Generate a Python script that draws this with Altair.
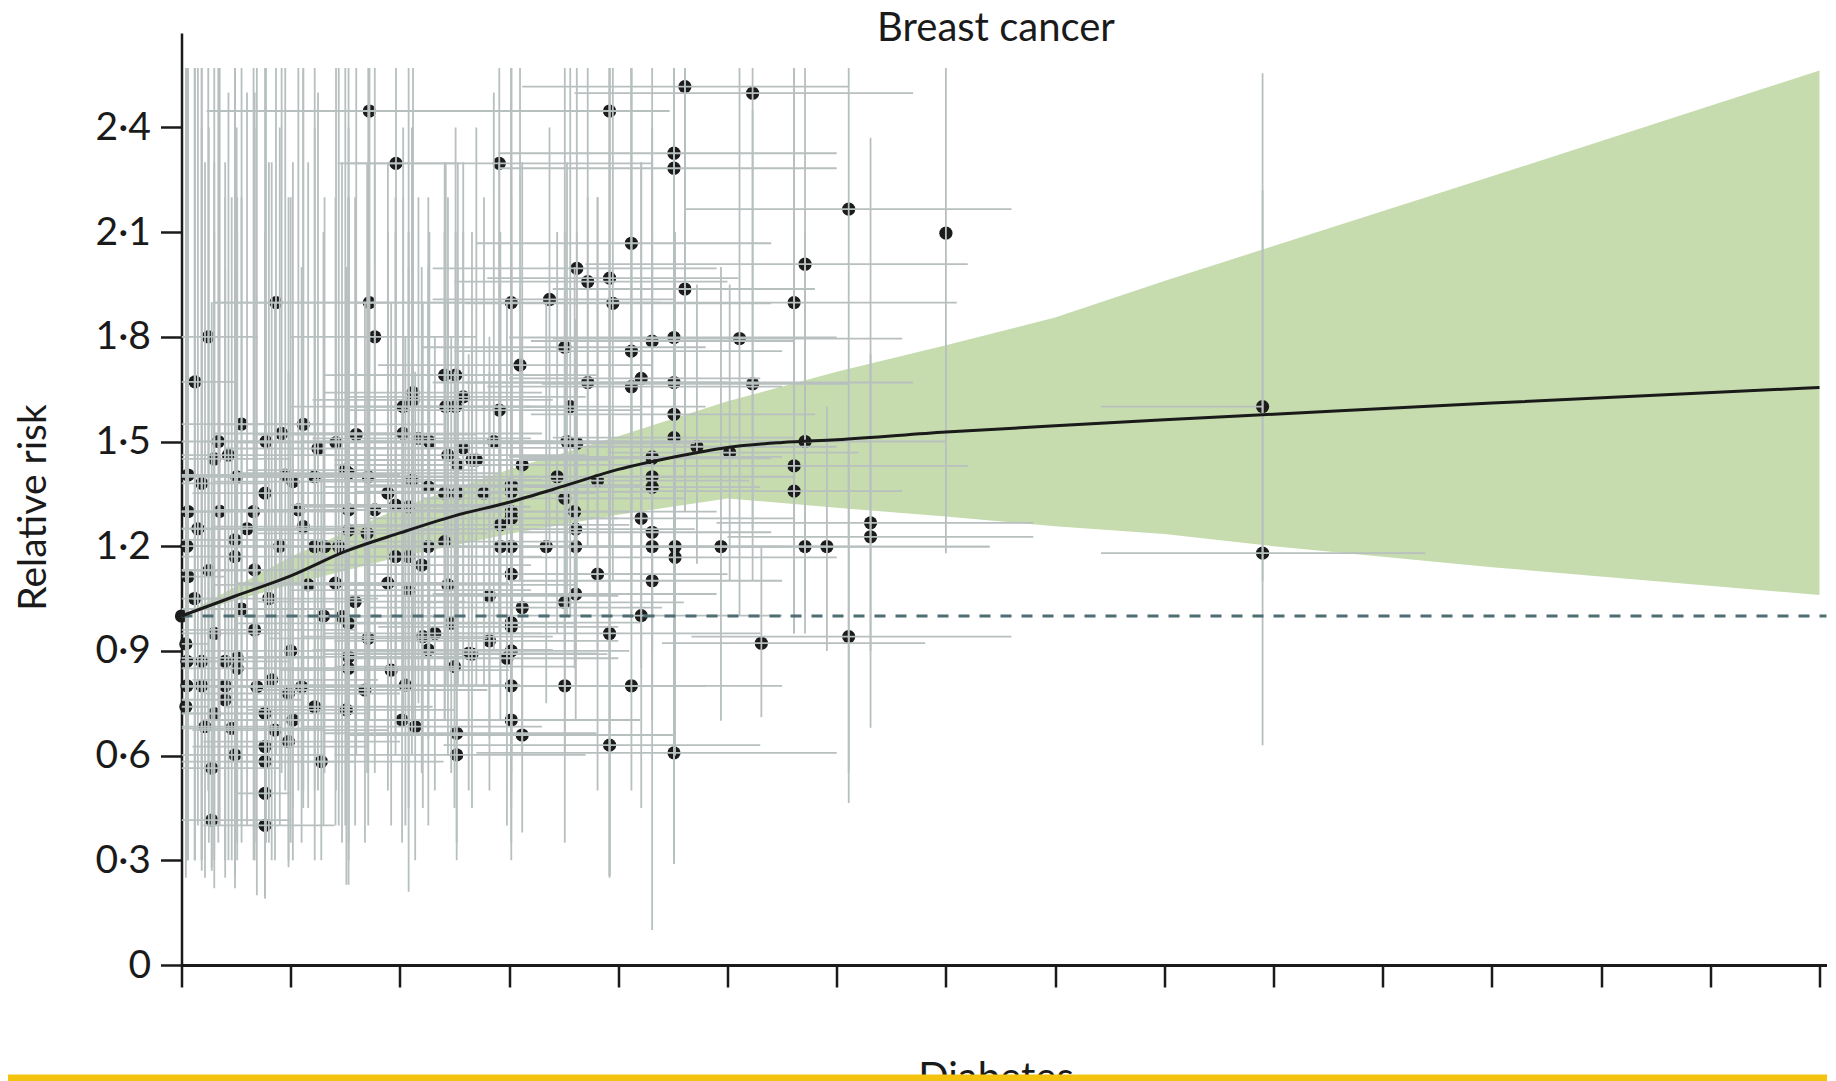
import altair as alt
import pandas as pd

# ---- study points: position, relative risk and their intervals ----
px = [9.9, 9.9, 7.0, 6.11, 5.71, 5.61, 5.23, 4.61, 4.51, 4.51,
      3.92, 5.11, 5.23, 4.51, 4.51, 4.31, 4.12, 3.62, 3.72, 3.92,
      3.95, 4.61, 3.02, 3.37, 3.51, 4.12, 3.10, 3.72, 4.21, 4.12,
      2.91, 3.56, 4.51, 2.86, 3.53, 3.62, 4.51, 4.72, 5.02, 4.31,
      2.70, 3.12, 3.44, 3.81, 4.31, 4.31, 4.31, 2.77, 3.02, 3.02,
      3.51, 3.02, 3.02, 2.92, 3.60, 3.61, 4.21, 4.31, 2.92, 3.02,
      3.34, 3.61, 4.31, 4.52, 4.52, 4.94, 5.71, 5.61, 5.61, 6.31,
      6.31, 5.71, 5.91, 6.11, 5.31, 3.02, 3.81, 4.31, 2.82, 3.61,
      3.51, 3.12, 3.02, 3.02, 4.21, 3.92, 2.82, 2.66, 3.02, 2.98,
      3.02, 3.51, 4.12, 3.02, 3.12, 3.92, 4.51, 1.72, 1.964, 2.91,
      0.865, 1.72, 0.245, 1.77, 0.124, 2.41, 2.51, 2.12, 2.12, 2.58,
      2.03, 2.42, 2.51, 1.115, 0.917, 0.774, 1.415, 2.03, 2.17, 2.27,
      2.44, 2.58, 0.337, 0.43, 0.06, 0.505, 0.95, 1.02, 1.22, 1.50,
      1.53, 1.71, 2.11, 2.26, 2.53, 2.66, 0.185, 1.89, 2.41, 2.53,
      0.765, 0.06, 0.66, 1.07, 1.53, 1.77, 1.96, 2.08, 1.115, 1.53,
      1.70, 0.49, 1.22, 1.31, 1.44, 2.26, 2.41, 1.96, 2.08, 2.2,
      0.49, 0.67, 1.16, 1.41, 1.89, 2.08, 2.44, 1.59, 1.47, 1.53,
      0.67, 1.71, 2.21, 2.32, 2.26, 2.47, 2.63, 1.53, 1.53, 1.92,
      2.50, 0.826, 0.69, 1.10, 0.98, 1.68, 2.05, 1.22, 1.51, 2.02,
      2.14, 1.02, 0.765, 0.215, 0.46, 0.856, 0.98, 2.52, 2.52, 0.49,
      0.765, 0.765, 1.28, 0.277, 0.765, 0.277, 0.765, 0.0, 0.05, 0.06,
      0.04, 0.05, 0.04, 0.05, 0.185, 0.185, 0.40, 0.40, 0.40, 0.51,
      0.51, 0.12, 0.25, 0.3, 0.55, 0.15, 0.35, 0.6, 0.3, 0.9,
      0.8, 1.3, 1.0, 0.3, 1.25, 0.55, 1.6]
prr = [1.60, 1.18, 2.097, 2.166, 2.008, 1.898, 2.498, 2.517, 2.326, 2.283,
       2.447, 1.795, 1.665, 1.669, 1.798, 1.788, 2.068, 1.996, 1.958, 1.968,
       1.896, 1.937, 1.898, 1.907, 1.77, 1.759, 1.719, 1.669, 1.681, 1.657,
       1.59, 1.60, 1.578, 1.50, 1.50, 1.495, 1.511, 1.485, 1.468, 1.456,
       1.447, 1.433, 1.399, 1.388, 1.452, 1.399, 1.369, 1.352, 1.375, 1.356,
       1.337, 1.299, 1.28, 1.261, 1.299, 1.249, 1.28, 1.24, 1.199, 1.199,
       1.199, 1.199, 1.199, 1.199, 1.168, 1.199, 1.50, 1.43, 1.358, 1.267,
       1.227, 1.199, 1.199, 0.941, 0.922, 1.12, 1.12, 1.101, 1.058, 1.063,
       1.039, 1.024, 0.981, 0.969, 1.001, 0.95, 0.929, 0.891, 0.90, 0.879,
       0.80, 0.80, 0.80, 0.702, 0.659, 0.63, 0.608, 2.447, 2.297, 2.297,
       1.898, 1.898, 1.80, 1.80, 1.671, 1.69, 1.69, 1.64, 1.619, 1.628,
       1.60, 1.60, 1.60, 1.549, 1.523, 1.50, 1.497, 1.523, 1.509, 1.50,
       1.461, 1.482, 1.50, 1.461, 1.404, 1.399, 1.404, 1.385, 1.399, 1.418,
       1.409, 1.399, 1.39, 1.37, 1.433, 1.447, 1.38, 1.352, 1.352, 1.352,
       1.352, 1.299, 1.299, 1.304, 1.304, 1.304, 1.318, 1.313, 1.256, 1.246,
       1.237, 1.218, 1.199, 1.199, 1.199, 1.199, 1.213, 1.17, 1.17, 1.146,
       1.17, 1.132, 1.089, 1.094, 1.094, 1.074, 1.089, 1.041, 0.998, 0.979,
       0.96, 0.936, 0.941, 0.95, 0.903, 0.979, 0.893, 0.883, 0.85, 0.845,
       0.855, 0.817, 0.797, 0.797, 0.778, 0.788, 0.802, 0.74, 0.731, 0.702,
       0.683, 0.702, 0.721, 0.683, 0.678, 0.673, 0.64, 0.664, 0.602, 0.602,
       0.626, 0.583, 0.583, 0.564, 0.492, 0.415, 0.40, 1.0, 1.2, 1.113,
       0.92, 0.80, 0.74, 0.87, 0.87, 0.80, 0.87, 0.80, 0.76, 0.88,
       0.85, 1.05, 1.13, 0.95, 1.02, 1.25, 1.30, 1.25, 0.72, 1.2,
       1.05, 1.0, 0.9, 1.45, 1.48, 1.55, 1.52]
pxlo = [8.42, 8.42, 7.0, 4.62, 3.7, 4.0, 3.6, 3.12, 2.9, 2.9,
        2.64, 3.4, 3.3, 2.6, 3.0, 3.2, 2.7, 2.3, 2.5, 2.8,
        2.6, 3.4, 1.6, 2.3, 2.2, 2.5, 1.8, 2.3, 3.0, 2.8,
        1.5, 2.2, 3.2, 1.6, 2.1, 2.5, 3.4, 3.6, 3.9, 3.0,
        1.4, 1.7, 2.0, 2.3, 3.1, 3.0, 3.2, 1.5, 1.7, 1.6,
        2.2, 1.8, 1.7, 1.5, 2.3, 2.2, 3.0, 3.1, 1.6, 1.5,
        2.0, 2.4, 3.0, 3.3, 3.1, 3.8, 4.3, 4.1, 4.2, 4.9,
        5.0, 4.4, 4.6, 4.67, 4.4, 1.7, 2.6, 3.0, 1.5, 2.3,
        2.1, 1.7, 1.6, 1.8, 2.8, 2.5, 1.4, 1.3, 1.6, 1.5,
        1.6, 2.2, 2.8, 1.7, 1.5, 2.4, 2.7, 0.23, 1.43, 1.5,
        0.3, 0.3, 0.0, 1.0, 0.0, 1.4, 1.3, 1.3, 1.2, 1.5,
        1.0, 1.4, 1.6, 0.3, 0.3, 0.2, 0.5, 1.0, 1.2, 1.1,
        1.3, 1.5, 0.0, 0.0, 0.0, 0.0, 0.2, 0.3, 0.4, 0.6,
        0.5, 0.8, 1.2, 1.3, 1.4, 1.7, 0.0, 0.9, 1.2, 1.5,
        0.1, 0.0, 0.0, 0.3, 0.6, 0.8, 1.0, 1.1, 0.3, 0.7,
        0.7, 0.0, 0.4, 0.3, 0.5, 1.2, 1.3, 1.0, 1.0, 1.2,
        0.0, 0.0, 0.3, 0.5, 0.9, 1.0, 1.4, 0.7, 0.6, 0.5,
        0.0, 0.8, 1.1, 1.3, 1.2, 1.4, 1.5, 0.6, 0.7, 0.9,
        1.4, 0.1, 0.0, 0.3, 0.2, 0.7, 1.0, 0.4, 0.6, 1.0,
        1.1, 0.2, 0.0, 0.0, 0.0, 0.1, 0.2, 1.3, 1.4, 0.0,
        0.1, 0.0, 0.4, 0.0, 0.5, 0.0, 0.2, 0.0, 0.0, 0.0,
        0.0, 0.0, 0.0, 0.0, 0.0, 0.0, 0.0, 0.0, 0.0, 0.0,
        0.0, 0.0, 0.0, 0.0, 0.0, 0.0, 0.0, 0.0, 0.0, 0.1,
        0.1, 0.4, 0.2, 0.0, 0.4, 0.0, 0.7]
pxhi = [9.9, 11.39, 7.0, 7.6, 7.2, 7.1, 6.7, 6.11, 6.0, 6.0,
        4.47, 6.6, 6.1, 6.7, 6.0, 5.6, 5.4, 4.9, 5.0, 5.1,
        5.4, 5.8, 4.4, 4.5, 4.8, 5.5, 4.3, 5.0, 5.3, 5.5,
        4.2, 4.8, 5.8, 4.1, 4.9, 4.7, 5.6, 6.0, 6.2, 5.5,
        3.9, 4.3, 4.6, 5.2, 5.4, 5.6, 5.3, 3.8, 4.2, 4.3,
        4.6, 4.1, 4.0, 4.1, 4.9, 4.7, 5.6, 5.4, 4.0, 4.2,
        4.5, 4.8, 5.5, 5.9, 6.0, 6.3, 7.0, 7.2, 6.6, 7.8,
        7.8, 7.4, 7.4, 7.6, 6.81, 4.2, 5.0, 5.5, 4.0, 4.9,
        4.6, 4.4, 4.2, 4.0, 5.5, 5.3, 4.0, 3.9, 4.1, 4.0,
        4.3, 4.8, 5.5, 4.2, 4.5, 5.3, 6.0, 3.21, 2.51, 4.3,
        1.9, 3.1, 0.7, 2.7, 0.5, 3.6, 3.8, 3.3, 3.4, 3.7,
        3.2, 3.5, 3.6, 2.4, 2.1, 1.9, 2.8, 3.3, 3.2, 3.4,
        3.7, 3.6, 1.0, 1.4, 0.3, 1.3, 2.0, 2.2, 2.5, 2.7,
        2.9, 2.8, 3.3, 3.5, 3.6, 3.9, 0.8, 3.0, 3.5, 3.7,
        1.8, 0.35, 1.6, 2.1, 2.6, 2.9, 3.0, 3.2, 2.2, 2.5,
        2.8, 1.3, 2.3, 2.5, 2.6, 3.4, 3.6, 3.1, 3.3, 3.2,
        1.2, 1.5, 2.2, 2.5, 3.0, 3.2, 3.6, 2.6, 2.5, 2.7,
        1.6, 2.8, 3.4, 3.3, 3.4, 3.6, 3.8, 2.6, 2.5, 3.0,
        3.6, 1.8, 1.5, 2.1, 2.0, 2.8, 3.1, 2.3, 2.5, 3.1,
        3.3, 2.0, 1.7, 0.9, 1.3, 1.9, 2.0, 3.8, 3.7, 1.3,
        1.7, 1.6, 2.4, 0.9, 1.0, 1.0, 1.4, 0.0, 0.3, 0.4,
        0.25, 0.3, 0.25, 0.3, 0.6, 0.7, 1.0, 1.2, 1.1, 1.3,
        1.4, 0.5, 0.8, 0.9, 1.4, 0.6, 1.0, 1.5, 1.0, 2.0,
        1.8, 2.3, 2.0, 1.0, 2.4, 1.3, 2.7]
prlo = [1.10, 0.63, 1.18, 0.464, 1.009, 1.066, 1.25, 1.3, 0.95, 0.29,
        0.255, 1.0, 1.1, 1.2, 1.25, 1.3, 1.5, 1.25, 1.35, 1.2,
        1.1, 1.3, 1.0, 1.2, 0.9, 1.1, 1.1, 1.2, 1.25, 1.0,
        0.95, 1.0, 1.1, 0.9, 1.0, 1.05, 1.0, 1.15, 1.1, 0.9,
        0.8, 0.9, 0.95, 0.9, 1.0, 0.95, 0.8, 0.8, 0.85, 0.7,
        0.8, 0.75, 0.85, 0.7, 0.85, 0.9, 0.85, 0.9, 0.8, 0.6,
        0.75, 0.8, 0.7, 0.85, 0.6, 0.7, 1.05, 0.95, 0.95, 0.68,
        0.9, 0.95, 0.90, 0.55, 0.71, 0.6, 0.5, 0.10, 0.65, 0.7,
        0.6, 0.6, 0.55, 0.5, 0.45, 0.25, 0.5, 0.45, 0.45, 0.4,
        0.35, 0.35, 0.5, 0.3, 0.38, 0.255, 0.29, 0.7, 0.9, 1.0,
        0.6, 0.8, 0.5, 0.7, 0.3, 0.9, 0.8, 0.7, 0.9, 1.0,
        0.8, 0.8, 0.95, 0.5, 0.55, 0.35, 0.5, 0.7, 0.75, 0.8,
        0.85, 0.8, 0.35, 0.3, 0.3, 0.4, 0.5, 0.45, 0.6, 0.4,
        0.7, 0.55, 0.6, 0.7, 0.8, 0.9, 0.3, 0.6, 0.7, 0.8,
        0.3, 0.35, 0.3, 0.5, 0.6, 0.55, 0.65, 0.7, 0.45, 0.6,
        0.55, 0.25, 0.5, 0.55, 0.4, 0.65, 0.7, 0.6, 0.21, 0.55,
        0.3, 0.35, 0.45, 0.4, 0.5, 0.45, 0.6, 0.4, 0.35, 0.23,
        0.3, 0.4, 0.45, 0.5, 0.4, 0.55, 0.5, 0.35, 0.3, 0.4,
        0.45, 0.3, 0.2, 0.35, 0.3, 0.35, 0.4, 0.3, 0.23, 0.35,
        0.3, 0.3, 0.25, 0.25, 0.3, 0.3, 0.28, 0.35, 0.3, 0.22,
        0.3, 0.2, 0.3, 0.27, 0.2, 0.28, 0.19, 1.0, 0.3, 0.4,
        0.3, 0.3, 0.25, 0.35, 0.3, 0.27, 0.3, 0.3, 0.25, 0.35,
        0.3, 0.3, 0.35, 0.3, 0.35, 0.4, 0.4, 0.4, 0.22, 0.4,
        0.35, 0.4, 0.35, 0.4, 0.5, 0.4, 0.6]
prhi = [2.22, 2.555, 2.57, 2.57, 2.57, 2.57, 2.57, 2.57, 2.57, 2.57,
        2.57, 2.57, 2.45, 2.1, 2.5, 2.4, 2.57, 2.57, 2.57, 2.57,
        2.57, 2.57, 2.57, 2.4, 2.57, 2.57, 2.57, 2.2, 2.3, 2.57,
        2.3, 2.57, 2.2, 2.5, 2.3, 2.1, 2.2, 1.95, 1.95, 2.3,
        2.4, 2.3, 2.1, 2.2, 2.1, 2.0, 2.4, 2.2, 2.2, 2.57,
        2.1, 2.3, 1.9, 2.1, 2.0, 1.85, 1.95, 1.8, 1.9, 2.57,
        1.9, 1.8, 2.0, 1.9, 2.1, 2.0, 2.1, 2.57, 1.95, 2.37,
        1.75, 1.55, 1.60, 1.5, 1.2, 2.0, 2.2, 2.57, 1.8, 1.7,
        1.9, 1.8, 1.8, 1.9, 2.3, 2.57, 1.7, 1.8, 1.75, 1.9,
        1.85, 1.65, 1.6, 1.6, 1.45, 1.6, 1.25, 2.57, 2.57, 2.57,
        2.57, 2.57, 2.57, 2.57, 2.57, 2.3, 2.4, 2.57, 2.2, 2.1,
        2.2, 2.3, 2.1, 2.57, 2.57, 2.57, 2.57, 2.4, 2.2, 2.1,
        2.2, 2.3, 2.57, 2.5, 2.57, 2.4, 2.57, 2.3, 2.57, 2.57,
        2.2, 2.57, 2.4, 2.2, 2.3, 2.1, 2.57, 2.3, 2.1, 2.0,
        2.57, 2.57, 2.57, 2.57, 2.4, 2.3, 2.2, 2.1, 2.57, 2.2,
        2.3, 2.57, 2.4, 2.2, 2.57, 2.0, 2.1, 2.1, 2.57, 2.0,
        2.57, 2.5, 2.3, 2.2, 2.1, 2.0, 1.9, 2.2, 2.3, 2.57,
        2.4, 2.0, 1.9, 1.8, 1.9, 1.8, 1.75, 2.1, 2.2, 1.9,
        1.7, 2.3, 2.57, 2.0, 2.2, 1.9, 1.8, 1.9, 2.0, 1.6,
        1.7, 1.8, 2.1, 2.3, 2.2, 1.9, 1.7, 1.5, 1.45, 2.0,
        1.7, 1.9, 1.4, 1.9, 1.5, 1.3, 1.2, 1.0, 2.57, 2.5,
        2.57, 2.3, 2.2, 2.4, 2.4, 2.57, 2.2, 2.3, 2.0, 2.1,
        2.2, 2.57, 2.4, 2.3, 2.2, 2.57, 2.57, 2.5, 2.1, 2.4,
        2.3, 2.1, 2.2, 2.57, 2.5, 2.57, 2.57]

# ---- pooled dose-response curve and its confidence band ----
band_x = [0, 1, 2, 3, 4, 5, 6, 7, 8, 9, 10, 12, 15]
band_lo = [1.0, 1.09, 1.17, 1.235, 1.29, 1.337, 1.31, 1.285, 1.257, 1.235, 1.20, 1.14, 1.06]
band_hi = [1.0, 1.17, 1.31, 1.42, 1.515, 1.615, 1.70, 1.776, 1.855, 1.96, 2.06, 2.26, 2.563]
fit_x = [0, 0.5, 1, 1.5, 2, 2.5, 3, 3.5, 4, 4.5, 5, 5.5, 6, 7, 8, 9, 10, 12, 15]
fit_rr = [1.0, 1.058, 1.115, 1.185, 1.238, 1.287, 1.326, 1.372, 1.42, 1.455, 1.483, 1.497,
          1.505, 1.527, 1.545, 1.562, 1.578, 1.61, 1.655]

y_ticks = [0, 0.3, 0.6, 0.9, 1.2, 1.5, 1.8, 2.1, 2.4]
x_ticks = list(range(16))

FONT = "Lato"
INK = "#1a1a1a"
W, H = 1645, 932

pts = pd.DataFrame(dict(x=px, rr=prr, xlo=pxlo, xhi=pxhi, rlo=prlo, rhi=prhi))
band = pd.DataFrame(dict(x=band_x, lo=band_lo, hi=band_hi))
fit = pd.DataFrame(dict(x=fit_x, rr=fit_rr))
one = pd.DataFrame({"k": [0]})

xs = alt.Scale(domain=[0, 15.064], nice=False, zero=False)
ys = alt.Scale(domain=[0, 2.6705], nice=False, zero=False)

label_expr = "datum.value == 0 ? '0' : replace(format(datum.value, '.1f'), '.', '\u00b7')"

X_AX = alt.Axis(values=x_ticks, labels=False, title=None, grid=False,
                tickSize=22, tickWidth=2.5, tickColor=INK,
                domainWidth=3, domainColor=INK)
Y_AX = alt.Axis(values=y_ticks, labelExpr=label_expr, grid=False,
                tickSize=21, tickWidth=2.5, tickColor=INK,
                domainWidth=2.5, domainColor=INK,
                labelFont=FONT, labelFontSize=39, labelColor=INK,
                labelPadding=10, labelFlush=False, labelOverlap=False,
                title="Relative risk", titleFont=FONT, titleFontSize=39,
                titleFontWeight="normal", titleColor=INK,
                titleAngle=270, titleX=-148, titleY=474,
                titleAlign="center", titleBaseline="middle")


def X(f):
    return alt.X(f, scale=xs, axis=X_AX)


def Y(f):
    return alt.Y(f, scale=ys, axis=Y_AX)


area = alt.Chart(band).mark_area(color="#c6dcae", opacity=1).encode(
    x=X("x:Q"), y=Y("lo:Q"), y2="hi:Q")

points = alt.Chart(pts).mark_circle(size=175, color="#1c1c1c", opacity=1).encode(
    x=X("x:Q"), y=Y("rr:Q"))

vbars = alt.Chart(pts).mark_rule(color="#b7bfbf", strokeWidth=1.8, clip=True).encode(
    x=X("x:Q"), y=Y("rlo:Q"), y2="rhi:Q")

hbars = alt.Chart(pts).mark_rule(color="#b7bfbf", strokeWidth=1.8, clip=True).encode(
    x=X("xlo:Q"), x2="xhi:Q", y=Y("rr:Q"))

ref = alt.Chart(one).mark_rule(color="#4f6e73", strokeWidth=3, strokeDash=[11, 10]).encode(
    y=alt.datum(1.0, scale=ys, axis=Y_AX),
    x=alt.value(0),
    x2=alt.value(W),
)

curve = alt.Chart(fit).mark_line(color=INK, strokeWidth=3, interpolate="monotone").encode(
    x=X("x:Q"), y=Y("rr:Q"))

title = alt.Chart(one).mark_text(text="Breast cancer", font=FONT, fontSize=40, color=INK,
                                 align="center", baseline="alphabetic").encode(
    x=alt.value(814.5), y=alt.value(8))

xtitle = alt.Chart(one).mark_text(text="Diabetes", font=FONT, fontSize=40, color=INK,
                                  align="center", baseline="alphabetic").encode(
    x=alt.value(814.5), y=alt.value(1058))

ybar = alt.Chart(one).mark_rule(color="#f4c30f", strokeWidth=7).encode(
    x=alt.value(-180), x2=alt.value(W + 20), y=alt.value(1045))

chart = alt.layer(area, points, vbars, hbars, ref, curve, title, xtitle, ybar).properties(
    width=W, height=H,
    autosize=alt.AutoSizeParams(type="none"),
    padding={"left": 173.5, "top": 25, "right": 0, "bottom": 116},
    background="white",
).configure_view(stroke=None)

chart.save("out.html", embed_options={"renderer": "svg", "actions": False})
